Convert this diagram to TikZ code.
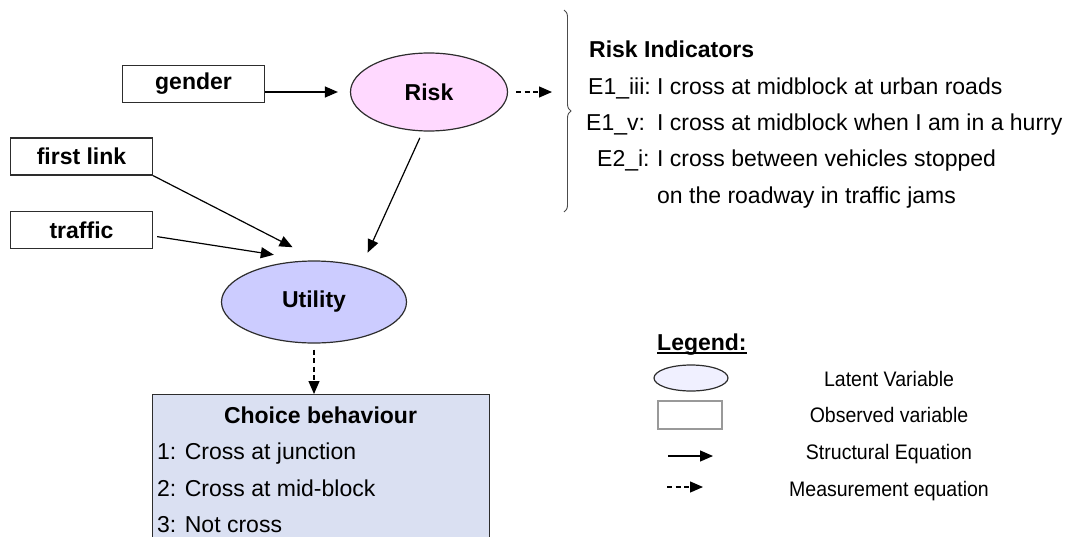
\documentclass[tikz,border=0pt]{standalone}
\usepackage{fontspec}
\setmainfont{Liberation Sans}
\newfontfamily\keyfont[FakeStretch=0.93]{Liberation Sans}
\usetikzlibrary{arrows.meta, positioning, shapes.geometric, decorations.pathreplacing}

\definecolor{riskpink}{RGB}{255,217,255}
\definecolor{utilblue}{RGB}{204,204,255}
\definecolor{choiceblue}{RGB}{218,224,242}
\definecolor{latentlight}{RGB}{240,240,255}
\definecolor{edgegray}{RGB}{45,45,45}

\begin{document}
\begin{tikzpicture}[x=1pt, y=-1pt,
  font=\fontsize{23}{28}\selectfont,
  txt/.style={inner sep=0pt},
  boldlabel/.style={font=\fontsize{23}{28}\selectfont\bfseries},
  keylabel/.style={inner sep=0pt, font=\fontsize{21}{25}\keyfont},
  observed/.style={draw=edgegray, line width=1.3pt, rectangle, inner sep=0pt,
                   minimum width=142pt, minimum height=37pt, boldlabel},
  latent/.style={draw=edgegray, line width=1.2pt, ellipse, inner sep=0pt, boldlabel},
  struct/.style={line width=1.2pt, -{Triangle[length=13pt, width=11pt]}},
  measure/.style={struct, dash pattern=on 5pt off 3.5pt},
]
\useasboundingbox (0,0) rectangle (1069,536);
\clip (0,0) rectangle (1069,536);

% observed variables and latent variables
\node [observed                                              ] (gender)    at (193.5, 84)   {gender};
\node [observed                                              ] (firstlink) at (81.5, 156.5) {first link};
\node [observed                                              ] (traffic)   at (81.5, 230)   {traffic};
\node [latent, fill=riskpink, minimum width=157pt, minimum height=78pt] (risk)    at (429, 92)  {Risk};
\node [latent, fill=utilblue, minimum width=185pt, minimum height=82pt] (utility) at (314, 302) {Utility};

% choice box (runs off the bottom)
\node [draw=edgegray, line width=1.3pt, fill=choiceblue, anchor=north west,
       minimum width=337pt, minimum height=170pt] (choice) at (152, 394) {};
\node [txt, boldlabel, anchor=base] (choicehead) at (320.5, 423)   {Choice behaviour};
\node [txt, anchor=base west      ] (alt1)       at (157, 459)     {1: Cross at junction};
\node [txt, anchor=base west      ] (alt2)       at (157, 496)     {2: Cross at mid-block};
\node [txt, anchor=base west      ] (alt3)       at (157, 532.5)   {3: Not cross};

% indicators
\coordinate (bracetop) at (564, 10);
\coordinate (bracebot) at (564, 212);
\draw [gray!60!black, line width=0.9pt, decorate, decoration={brace, amplitude=7pt}] (bracetop) -- (bracebot);

\node [txt, boldlabel, anchor=base west] (indhead) at (589, 57)  {Risk Indicators};
\node [txt, anchor=base west] (e1iii) at (588, 94)  {E1\_iii:};
\node [txt, anchor=base west] (e1v)   at (586, 130) {E1\_v:};
\node [txt, anchor=base west] (e2i)   at (597, 166) {E2\_i:};
\node [txt, anchor=base west] (q1)    at (657, 94)  {I cross at midblock at urban roads};
\node [txt, anchor=base west] (q2)    at (657, 130) {I cross at midblock when I am in a hurry};
\node [txt, anchor=base west] (q3)    at (657, 166) {I cross between vehicles stopped};
\node [txt, anchor=base west] (q3b)   at (657, 203) {on the roadway in traffic jams};

% structural and measurement arrows
\draw [struct, shorten >=12pt] (gender.east |- risk.west) -- (risk.west);
\draw [struct, shorten <=7pt, shorten >=15pt] (risk.-99) -- (utility.37);
\draw [struct, shorten >=29pt] (firstlink.south east) -- (utility.84);
\draw [struct, shorten <=4pt, shorten >=37pt] ([yshift=-6pt]traffic.east) -- (utility.95);
\draw [measure, shorten <=8pt, shorten >=12pt] (risk.east) -- (risk.east -| bracetop);
\draw [measure, shorten <=6pt] (utility.south) -- (utility.south |- choice.north);

% legend
\node [txt, boldlabel, anchor=base west] (legendhead) at (657, 350) {Legend:};
\draw [line width=1.6pt] ([yshift=-3pt]legendhead.base west) -- ([yshift=-3pt]legendhead.base east);

\node [latent, fill=latentlight, minimum width=74pt, minimum height=26pt] (keylatent) at (691, 378) {};
\node [draw=gray!80, line width=1.3pt, minimum width=64pt, minimum height=28pt] (keyobserved) at (690, 415) {};
\coordinate (keys1) at (668, 456);
\coordinate (keys2) at (713, 456);
\coordinate (keym1) at (667, 487);
\coordinate (keym2) at (703, 487);
\draw [struct ] (keys1) -- (keys2);
\draw [measure] (keym1) -- (keym2);

\node [keylabel, anchor=base] (keylatenttext)   at (889, 386.5) {Latent Variable};
\node [keylabel, anchor=base] (keyobservedtext) at (889, 422)   {Observed variable};
\node [keylabel, anchor=base] (keystructtext)   at (889, 459)   {Structural Equation};
\node [keylabel, anchor=base] (keymeasuretext)  at (889, 496)   {Measurement equation};

\end{tikzpicture}
\end{document}
